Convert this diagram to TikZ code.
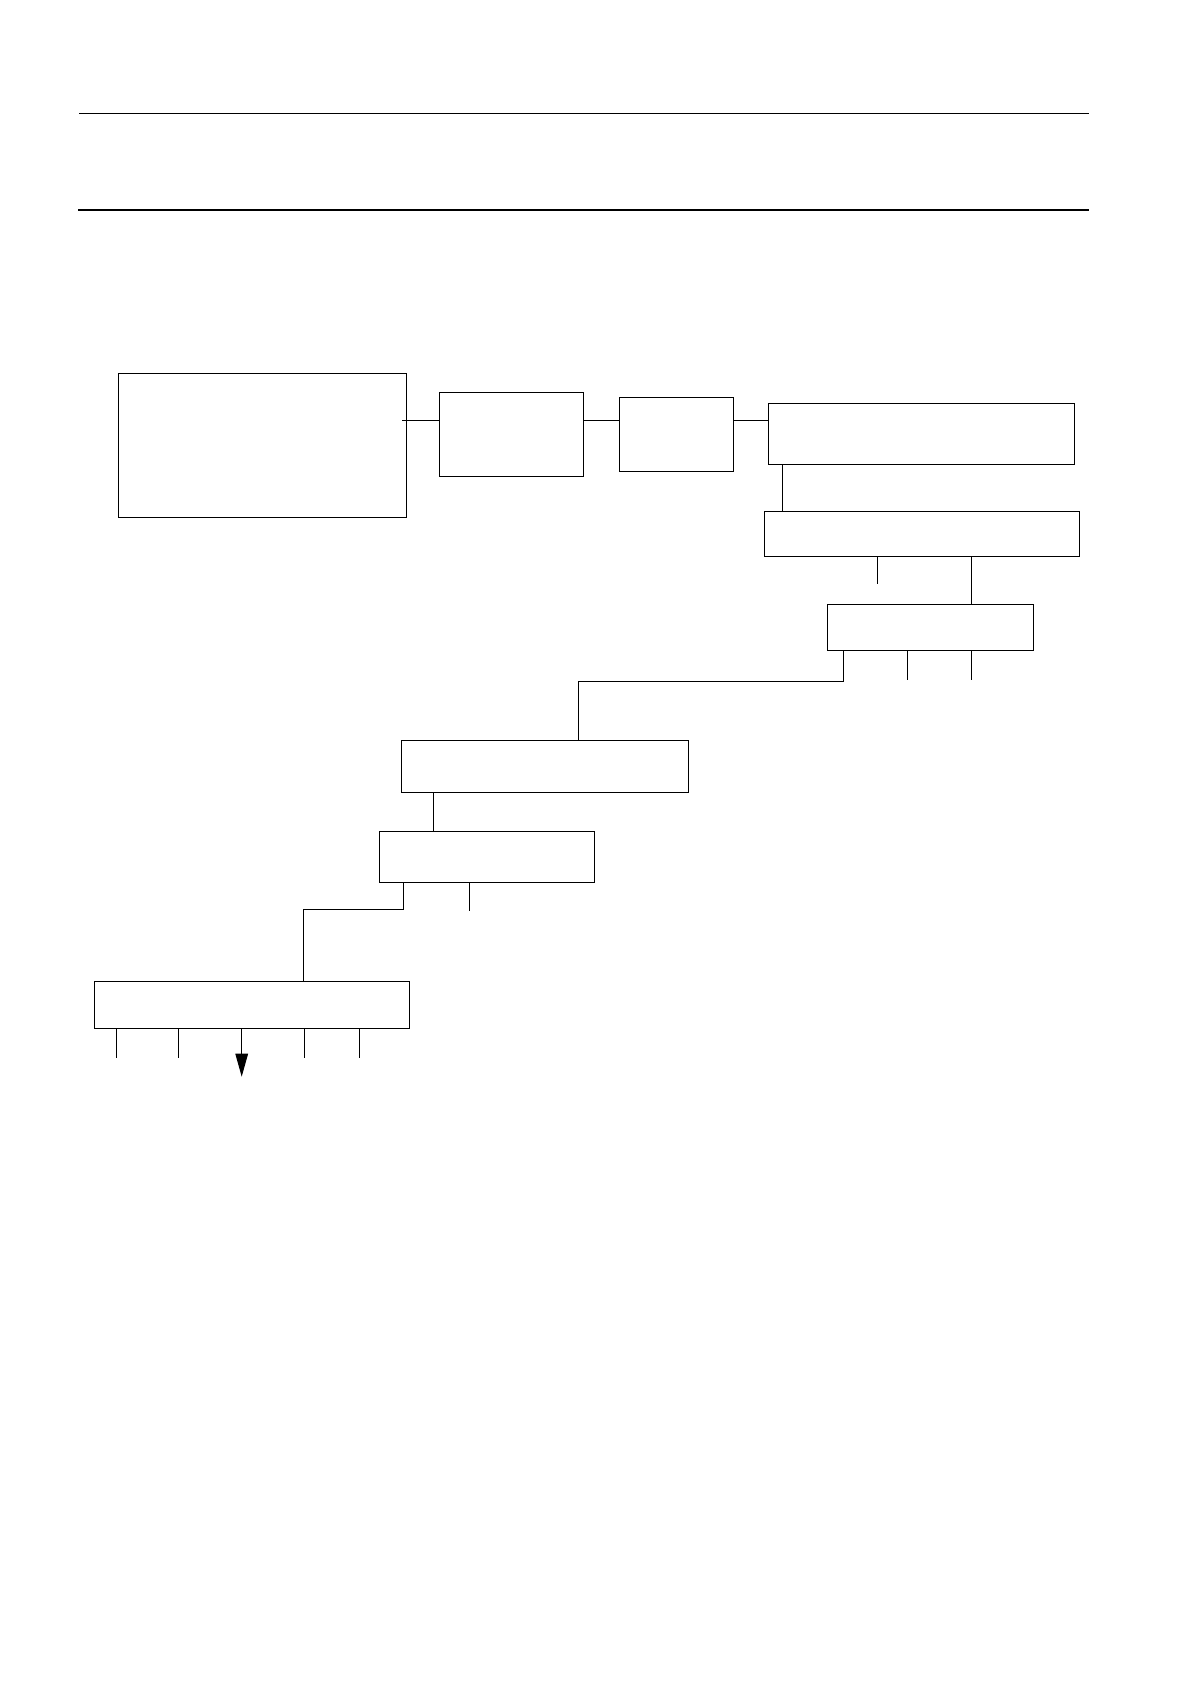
\documentclass[tikz,border=0pt]{standalone}
\usetikzlibrary{arrows.meta}
\tikzset{blk/.style={draw, line width=0.5pt, inner sep=0pt, anchor=north west}}

\begin{document}
\begin{tikzpicture}[x=0.5pt, y=-0.5pt, line width=0.5pt]
	\useasboundingbox (0,0) rectangle (1190,1684);
	% rules at the head of the page
	\coordinate (h1) at (79,113.3);
	\coordinate (h2) at (1089,113.3);
	\coordinate (h3) at (78,209.7);
	\coordinate (h4) at (1089,209.7);
	\draw (h1) -- (h2);
	\draw[line width=1pt] (h3) -- (h4);
	% blocks
	\node[blk, minimum width=144pt, minimum height=72pt] (b1) at (118.3,373.3) {};
	\node[blk, minimum width=72pt, minimum height=42pt] (b2) at (439.3,392.3) {};
	\node[blk, minimum width=57pt, minimum height=37pt] (b3) at (619.3,397.3) {};
	\node[blk, minimum width=153pt, minimum height=30.5pt] (b4) at (768.3,403.3) {};
	\node[blk, minimum width=157.2pt, minimum height=22.5pt] (b5) at (764.3,511.3) {};
	\node[blk, minimum width=103pt, minimum height=23pt] (b6) at (827.3,604.3) {};
	\node[blk, minimum width=143.2pt, minimum height=25.7pt] (b7) at (401.3,740.3) {};
	\node[blk, minimum width=107.2pt, minimum height=25.5pt] (b8) at (379.3,831.3) {};
	\node[blk, minimum width=157.5pt, minimum height=23.5pt] (b9) at (94.3,981.3) {};
	% top row
	\coordinate (j1) at (402,420.3);
	\coordinate (j2) at (600,421);
	\coordinate (j3) at (750,420.3);
	\draw (j1) -- (j1 -| b2.west);
	\draw (j2 -| b2.east) -- (j2 -| b3.west);
	\draw (j3 -| b3.east) -- (j3 -| b4.west);
	% right column
	\coordinate (j4) at (782.3,480);
	\coordinate (j5) at (971.7,580);
	\coordinate (t1) at (877.3,583.7);
	\draw (j4 |- b4.south) -- (j4 |- b5.north);
	\draw (j5 |- b5.south) -- (j5 |- b6.north);
	\draw (t1 |- b5.south) -- (t1);
	\coordinate (t2) at (907.3,680);
	\coordinate (t3) at (971.5,680);
	\draw (t2 |- b6.south) -- (t2);
	\draw (t3 |- b6.south) -- (t3);
	\coordinate (k1) at (843.5,681.5);
	\coordinate (k2) at (578.3,720);
	\draw (k1 |- b6.south) -- (k1) -| (k2 |- b7.north);
	% middle
	\coordinate (j6) at (433.3,810);
	\draw (j6 |- b7.south) -- (j6 |- b8.north);
	\coordinate (t4) at (469.3,910.7);
	\draw (t4 |- b8.south) -- (t4);
	\coordinate (k3) at (403.3,909.5);
	\coordinate (k4) at (303.7,950);
	\draw (k3 |- b8.south) -- (k3) -| (k4 |- b9.north);
	% bottom outputs
	\foreach \x in {116.3,178.3,304.3,359.3}
		\draw (\x,0 |- b9.south) -- (\x,1057.7);
	\coordinate (a1) at (241.7,1076.7);
	\draw[-{Triangle[length=11.5pt,width=6.3pt]}] (a1 |- b9.south) -- (a1);
\end{tikzpicture}
\end{document}
